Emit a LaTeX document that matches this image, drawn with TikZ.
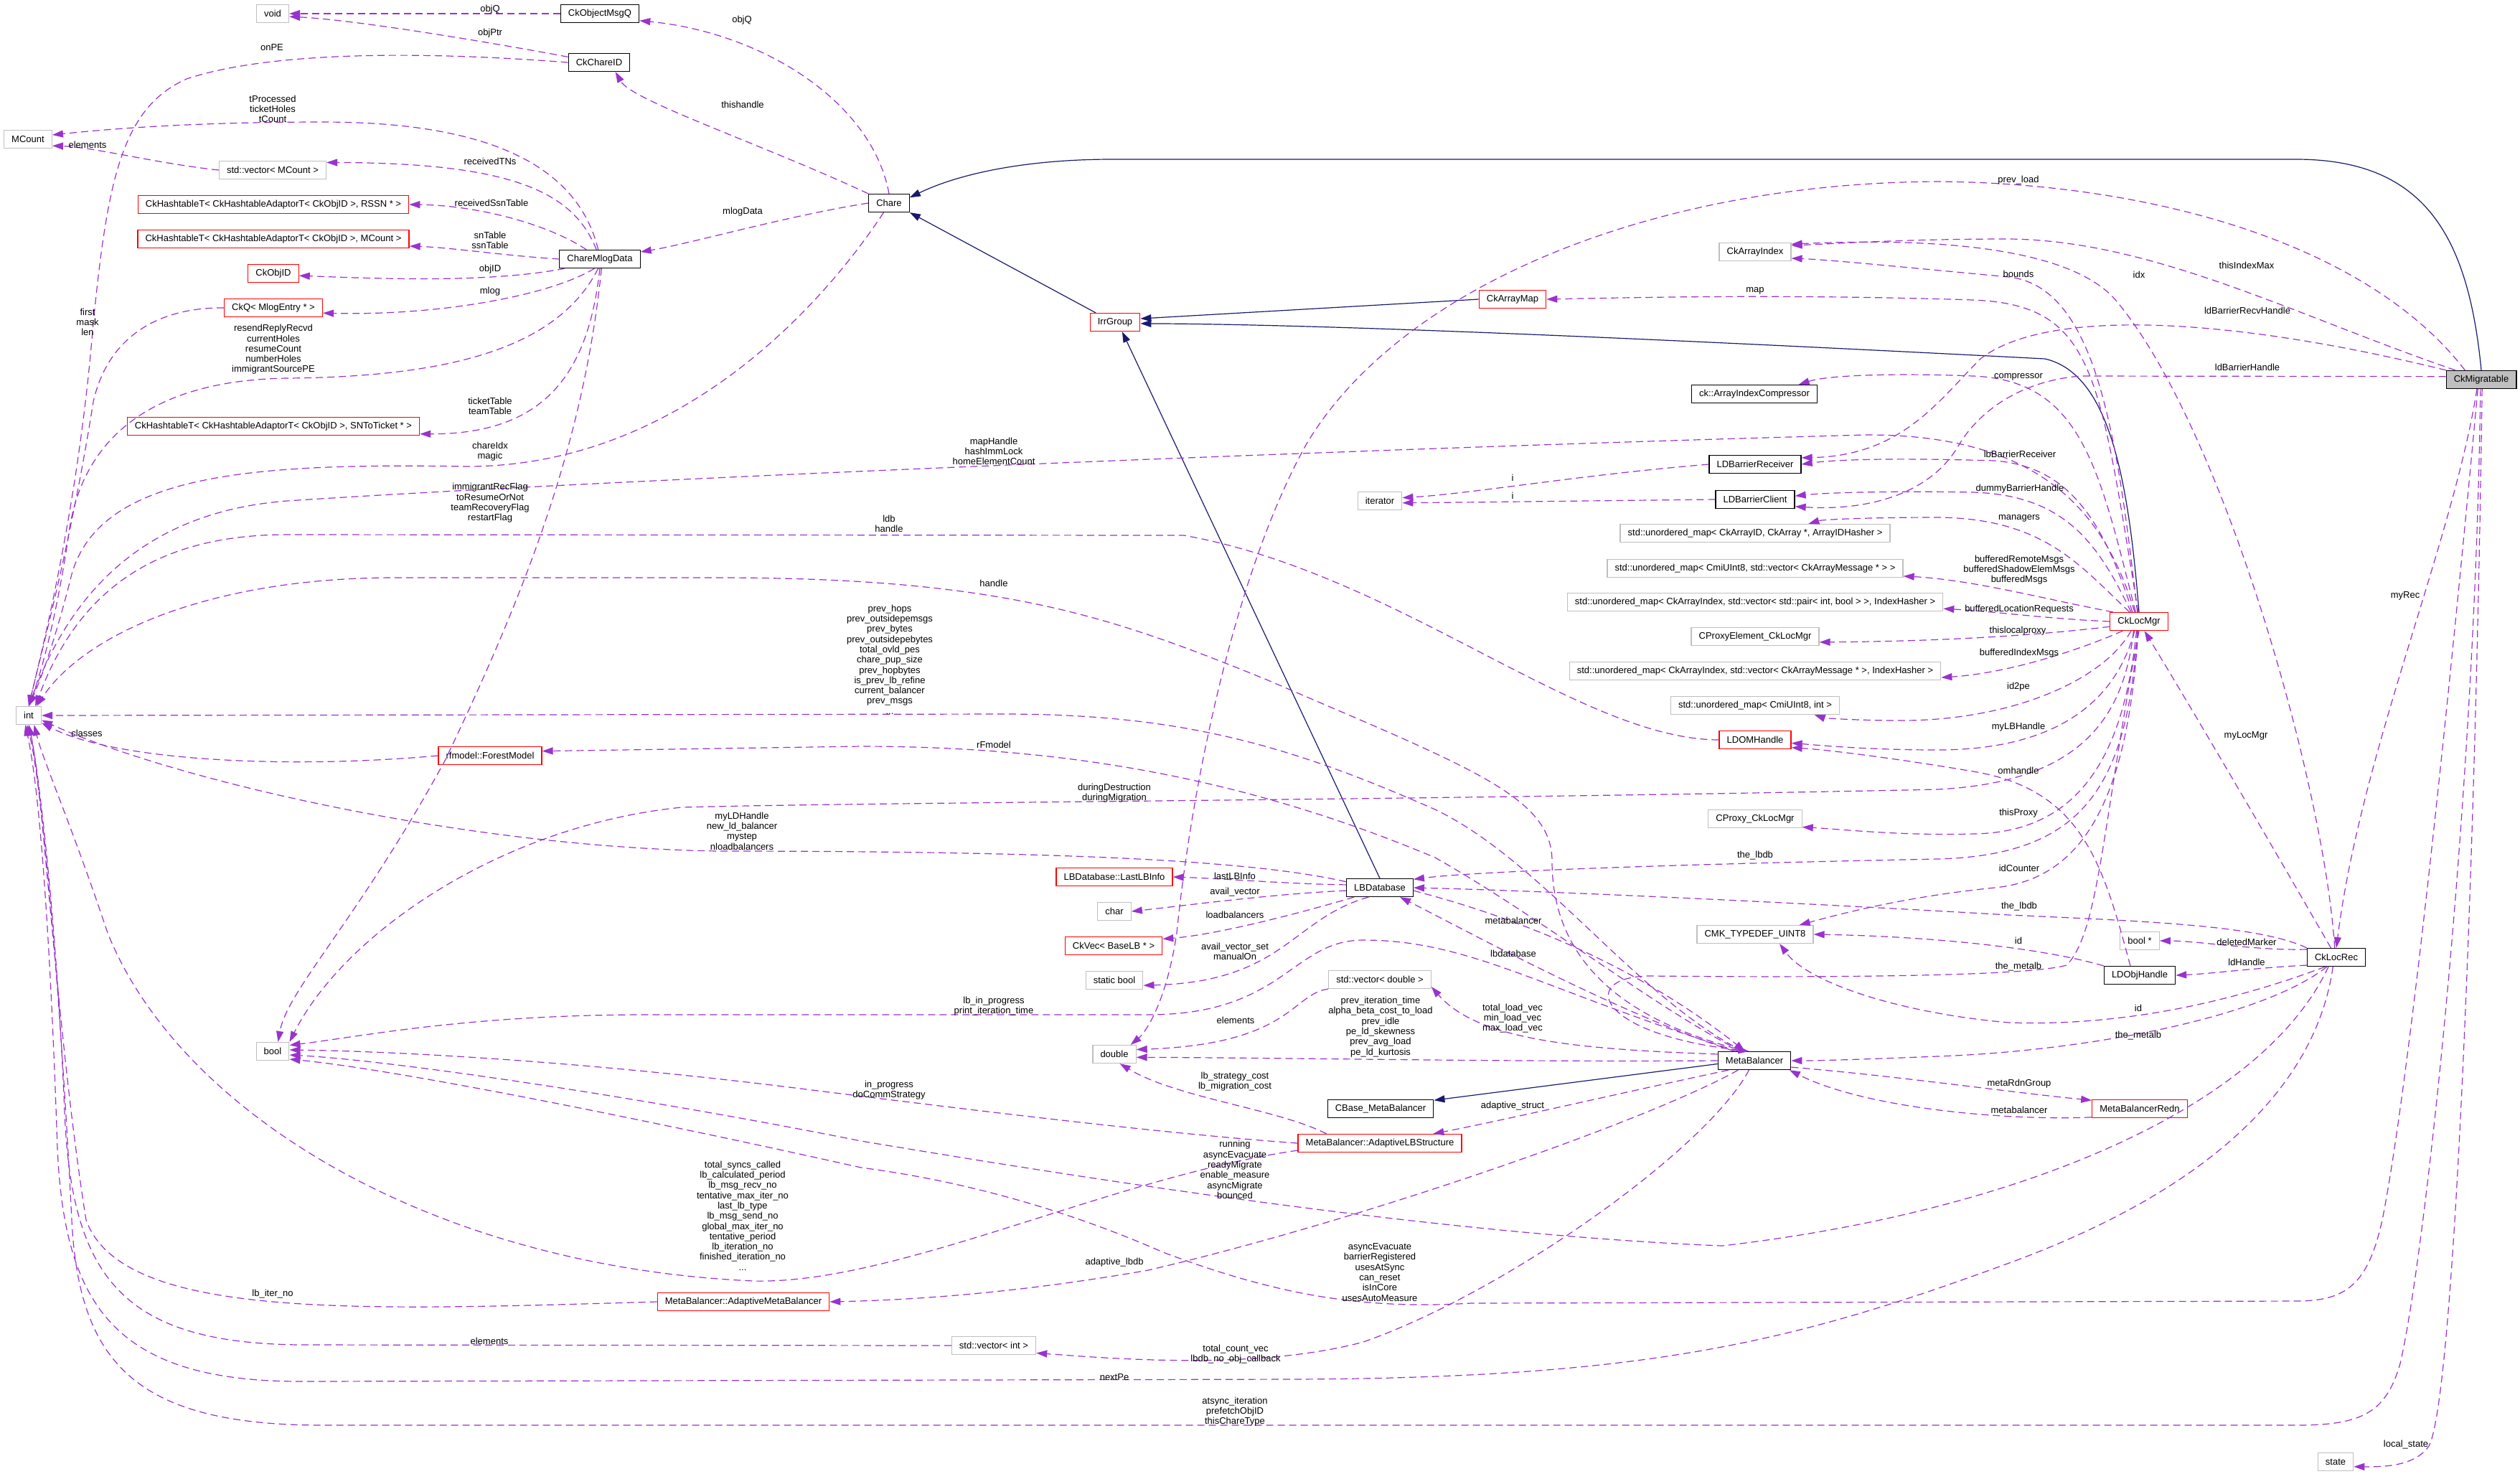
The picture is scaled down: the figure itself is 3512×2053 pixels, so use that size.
\documentclass[tikz,border=0pt]{standalone}
\usepackage{fontspec}
\setmainfont{Liberation Sans}
\usetikzlibrary{arrows.meta}
\definecolor{depc}{HTML}{9A32CD}
\definecolor{inhc}{HTML}{191970}
\definecolor{boxgray}{HTML}{BFBFBF}
\newcommand{\dgfont}{\fontsize{6.5pt}{7.15pt}\selectfont}
\begin{document}
\begin{tikzpicture}[x=0.5pt,y=-0.5pt,
  clsbox/.style={rectangle, draw, line width=0.6pt, minimum height=12.5pt, inner xsep=5.3pt, inner ysep=0pt, font=\dgfont},
  gbox/.style={clsbox, draw=boxgray},
  rbox/.style={clsbox, draw=red},
  kbox/.style={clsbox, draw=black},
  mainbox/.style={clsbox, draw=black, fill=boxgray},
  depedge/.style={draw=depc, line width=0.6pt, dash pattern=on 5pt off 3pt, -{Triangle[length=7.5pt,width=5pt]}},
  inhedge/.style={draw=inhc, line width=0.6pt, -{Triangle[length=7.5pt,width=5pt]}},
  lbltxt/.style={font=\dgfont, align=center, inner sep=0pt}]
\fill[white] (0,0) rectangle (3512,2053);
\useasboundingbox (0,0) rectangle (3512,2053);

% ---------------- nodes ----------------
\node[gbox] (voidn) at (380,19) {void};
\node[kbox] (omq) at (836,19) {CkObjectMsgQ};
\node[kbox] (ccid) at (835,87) {CkChareID};
\node[gbox] (mcount) at (39,194) {MCount};
\node[gbox] (vmc) at (380,237) {std::vector< MCount >};
\node[rbox] (rssn) at (381,285) {CkHashtableT< CkHashtableAdaptorT< CkObjID >, RSSN * >};
\node[rbox] (htm) at (381,333) {CkHashtableT< CkHashtableAdaptorT< CkObjID >, MCount >};
\node[rbox] (objid) at (381,381) {CkObjID};
\node[rbox] (ckq) at (381,429) {CkQ< MlogEntry * >};
\node[rbox] (snt) at (381,594) {CkHashtableT< CkHashtableAdaptorT< CkObjID >, SNToTicket * >};
\node[kbox] (cmd) at (836,361) {ChareMlogData};
\node[kbox] (chare) at (1239,283) {Chare};
\node[rbox] (irr) at (1554,449) {IrrGroup};
\node[gbox] (intn) at (40,997) {int};
\node[rbox] (fm) at (683,1053) {rfmodel::ForestModel};
\node[gbox] (booln) at (380,1465) {bool};
\node[rbox] (amb) at (1036,1814) {MetaBalancer::AdaptiveMetaBalancer};
\node[rbox] (llbi) at (1553,1222) {LBDatabase::LastLBInfo};
\node[gbox] (charn) at (1553,1270) {char};
\node[rbox] (ckvec) at (1552,1318) {CkVec< BaseLB * >};
\node[gbox] (sbool) at (1553,1366) {static bool};
\node[gbox] (dbl) at (1553,1469) {double};
\node[gbox] (vint) at (1385,1875) {std::vector< int >};
\node[gbox] (iter) at (1923,698) {iterator};
\node[kbox] (lbdb) at (1923,1237) {LBDatabase};
\node[gbox] (vdbl) at (1923,1365) {std::vector< double >};
\node[kbox] (cbmb) at (1924,1545) {CBase\_MetaBalancer};
\node[rbox] (albs) at (1923,1593) {MetaBalancer::AdaptiveLBStructure};
\node[rbox] (ckam) at (2108,417) {CkArrayMap};
\node[gbox] (cai) at (2446,351) {CkArrayIndex};
\node[kbox] (caic) at (2445,549) {ck::ArrayIndexCompressor};
\node[kbox] (ldbr) at (2446,647) {LDBarrierReceiver};
\node[kbox] (ldbc) at (2446,696) {LDBarrierClient};
\node[gbox] (um1) at (2446,743) {std::unordered\_map< CkArrayID, CkArray *, ArrayIDHasher >};
\node[gbox] (um2) at (2446,792) {std::unordered\_map< CmiUInt8, std::vector< CkArrayMessage * > >};
\node[gbox] (um3) at (2446,839) {std::unordered\_map< CkArrayIndex, std::vector< std::pair< int, bool > >, IndexHasher >};
\node[gbox] (cpe) at (2446,887) {CProxyElement\_CkLocMgr};
\node[gbox] (um4) at (2446,935) {std::unordered\_map< CkArrayIndex, std::vector< CkArrayMessage * >, IndexHasher >};
\node[gbox] (um5) at (2446,983) {std::unordered\_map< CmiUInt8, int >};
\node[rbox] (ldom) at (2446,1031) {LDOMHandle};
\node[gbox] (cpc) at (2446,1141) {CProxy\_CkLocMgr};
\node[gbox] (cmk) at (2446,1302) {CMK\_TYPEDEF\_UINT8};
\node[kbox] (mb) at (2445,1478) {MetaBalancer};
\node[rbox] (clm) at (2981,866) {CkLocMgr};
\node[gbox] (bptr) at (2982,1311) {bool *};
\node[kbox] (ldoh) at (2982,1359) {LDObjHandle};
\node[rbox] (mbr) at (2982,1545) {MetaBalancerRedn};
\node[kbox] (clr) at (3256,1334) {CkLocRec};
\node[gbox] (staten) at (3255,2037) {state};
\node[mainbox] (ckm) at (3458,529) {CkMigratable};

% ---------------- inheritance ----------------
\draw[inhedge] (ckm.north) .. controls (3440,330) and (3380,222) .. (3200,222) -- (1550,222) .. controls (1420,222) and (1330,245) .. (chare.15);
\draw[inhedge] (irr.154) -- (chare.south east);
\draw[inhedge] (ckam.west) -- (irr.8);
\draw[inhedge] (clm.north) .. controls (2965,650) and (2935,520) .. (2850,500) .. controls (2500,482) and (1900,452) .. (irr.-3);
\draw[inhedge] (lbdb.north) -- (irr.-53);
\draw[inhedge] (mb.-175) -- (cbmb.9);

% ---------------- dependencies ----------------
\draw[depedge] (omq.west) -- (voidn.east);
\draw[depedge] (ccid.170) .. controls (700,62) and (500,28) .. (voidn.-10);
\draw[depedge] (ccid.west) .. controls (600,72) and (380,70) .. (260,110) .. controls (170,150) and (150,250) .. (130,450) .. controls (110,700) and (60,900) .. (intn.north);
\draw[depedge] (chare.north) .. controls (1215,140) and (1060,45) .. (omq.-10);
\draw[depedge] (chare.north west) .. controls (1060,200) and (880,140) .. (ccid.-30);
\draw[depedge] (chare.west) .. controls (1100,300) and (960,340) .. (cmd.10);
\draw[depedge] (cmd.100) .. controls (805,230) and (680,170) .. (450,170) .. controls (250,170) and (130,182) .. (mcount.10);
\draw[depedge] (vmc.west) .. controls (220,228) and (130,205) .. (mcount.-15);
\draw[depedge] (cmd.110) .. controls (800,270) and (720,227) .. (vmc.8);
\draw[depedge] (cmd.145) .. controls (760,310) and (660,286) .. (rssn.east);
\draw[depedge] (cmd.west) .. controls (700,356) and (630,345) .. (htm.-3);
\draw[depedge] (cmd.-165) .. controls (680,395) and (520,388) .. (objid.-5);
\draw[depedge] (cmd.-120) .. controls (770,410) and (620,440) .. (ckq.-6);
\draw[depedge] (ckq.west) .. controls (220,428) and (150,470) .. (130,560) .. controls (100,750) and (60,900) .. (intn.north);
\draw[depedge] (cmd.-100) .. controls (780,480) and (640,525) .. (400,527) .. controls (200,530) and (110,620) .. (95,750) .. controls (80,850) and (60,930) .. (intn.north);
\draw[depedge] (cmd.-90) .. controls (820,520) and (760,605) .. (snt.-3);
\draw[depedge] (chare.-120) .. controls (1150,420) and (950,650) .. (650,650) .. controls (350,645) and (140,660) .. (100,800) .. controls (80,880) and (60,940) .. (intn.north);
\draw[depedge] (cmd.-80) .. controls (815,600) and (745,800) .. (620,1060) .. controls (500,1280) and (400,1380) .. (booln.60);
\draw[depedge] (clm.115) .. controls (2935,720) and (2850,605) .. (2600,606) .. controls (2000,622) and (900,665) .. (400,698) .. controls (180,715) and (90,850) .. (intn.north);
\draw[depedge] (ldom.west) .. controls (2200,1030) and (1950,800) .. (1650,746) -- (400,745) .. controls (220,745) and (110,820) .. (intn.55);
\draw[depedge] (mb.130) .. controls (2250,1420) and (2163,1330) .. (2163,1200) .. controls (2163,1110) and (2050,1070) .. (1765,947) .. controls (1550,860) and (1400,805) .. (1000,805) -- (550,805) .. controls (300,805) and (120,880) .. (intn.50);
\draw[depedge] (mb.140) .. controls (2280,1390) and (2150,1200) .. (2000,1128) .. controls (1800,1040) and (1650,995) .. (1400,995) -- (intn.east);
\draw[depedge] (mb.145) .. controls (2300,1400) and (2150,1280) .. (2000,1195) .. controls (1750,1090) and (1500,1040) .. (1200,1040) -- (fm.5);
\draw[depedge] (fm.west) .. controls (400,1072) and (160,1060) .. (intn.-30);
\draw[depedge] (clm.-120) .. controls (2960,1000) and (2900,1090) .. (2700,1100) .. controls (2000,1115) and (1200,1118) .. (950,1125) .. controls (700,1150) and (480,1300) .. (booln.north east);
\draw[depedge] (lbdb.170) .. controls (1750,1200) and (1500,1186) .. (1000,1186) .. controls (650,1180) and (250,1090) .. (intn.-20);
\draw[depedge] (lbdb.175) .. controls (1800,1232) and (1700,1224) .. (llbi.east);
\draw[depedge] (lbdb.-175) .. controls (1780,1245) and (1650,1262) .. (charn.east);
\draw[depedge] (lbdb.-160) .. controls (1820,1270) and (1700,1302) .. (ckvec.8);
\draw[depedge] (lbdb.-140) .. controls (1800,1280) and (1790,1368) .. (sbool.-10);
\draw[depedge] (mb.150) .. controls (2150,1380) and (2050,1310) .. (1900,1310) .. controls (1800,1310) and (1790,1414) .. (1600,1414) -- (900,1414) .. controls (650,1414) and (500,1445) .. (booln.20);
\draw[depedge] (vdbl.south west) .. controls (1800,1385) and (1800,1455) .. (dbl.12);
\draw[depedge] (mb.west) .. controls (2100,1480) and (1800,1474) .. (dbl.-8);
\draw[depedge] (mb.170) .. controls (2200,1462) and (2060,1450) .. (vdbl.-8);
\draw[depedge] (albs.170) .. controls (1780,1545) and (1640,1530) .. (dbl.-60);
\draw[depedge] (albs.west) .. controls (1600,1578) and (1300,1540) .. (1100,1515) .. controls (800,1478) and (550,1465) .. (booln.5);
\draw[depedge] (mb.-160) .. controls (2250,1525) and (2100,1560) .. (albs.10);
\draw[depedge] (clr.-130) .. controls (3150,1550) and (2800,1690) .. (2400,1736) .. controls (2000,1720) and (1500,1640) .. (1200,1590) .. controls (900,1530) and (550,1478) .. (booln.-12);
\draw[depedge] (albs.-175) .. controls (1550,1640) and (1250,1790) .. (1050,1785) .. controls (600,1765) and (250,1550) .. (150,1300) .. controls (100,1150) and (60,1060) .. (intn.-60);
\draw[depedge] (mb.-150) .. controls (2300,1560) and (1900,1700) .. (1600,1770) .. controls (1400,1805) and (1250,1812) .. (amb.east);
\draw[depedge] (ckm.-110) .. controls (3420,900) and (3360,1500) .. (3320,1700) .. controls (3300,1790) and (3270,1813) .. (3200,1813) -- (2050,1816) .. controls (1900,1825) and (1780,1805) .. (1621,1745) .. controls (1450,1670) and (1300,1640) .. (1200,1627) .. controls (900,1560) and (550,1490) .. (booln.-25);
\draw[depedge] (amb.west) .. controls (500,1826) and (170,1840) .. (120,1700) .. controls (80,1450) and (60,1100) .. (intn.south);
\draw[depedge] (vint.west) -- (420,1874) .. controls (170,1872) and (100,1780) .. (90,1550) .. controls (80,1300) and (55,1080) .. (intn.south);
\draw[depedge] (mb.-120) .. controls (2380,1600) and (2100,1800) .. (1900,1870) .. controls (1750,1910) and (1550,1893) .. (vint.-10);
\draw[depedge] (clr.-110) .. controls (3230,1500) and (3100,1650) .. (2800,1760) .. controls (2500,1870) and (2300,1920) .. (1800,1922) -- (420,1925) .. controls (160,1925) and (90,1820) .. (80,1600) .. controls (70,1300) and (55,1100) .. (intn.-110);
\draw[depedge] (ckm.-95) .. controls (3450,1100) and (3380,1750) .. (3345,1900) .. controls (3325,1970) and (3290,1986) .. (3200,1986) -- (450,1986) .. controls (190,1986) and (110,1900) .. (100,1700) .. controls (85,1400) and (60,1100) .. (intn.-100);
\draw[depedge] (ckm.-85) .. controls (3450,1200) and (3420,1950) .. (3385,2015) .. controls (3365,2044) and (3320,2044) .. (staten.-15);
\draw[depedge] (ckm.-115) .. controls (3420,750) and (3290,1050) .. (clr.north);
\draw[depedge] (ckm.150) .. controls (3300,340) and (3000,255) .. (2700,253) .. controls (2300,255) and (1950,400) .. (1820,620) .. controls (1720,800) and (1660,1100) .. (1640,1300) .. controls (1625,1400) and (1595,1440) .. (dbl.30);
\draw[depedge] (ckm.160) .. controls (3200,440) and (3000,335) .. (2800,333) .. controls (2650,333) and (2550,340) .. (cai.10);
\draw[depedge] (clm.100) .. controls (2950,600) and (2920,400) .. (2800,386) .. controls (2650,372) and (2550,362) .. (cai.-10);
\draw[depedge] (clr.100) .. controls (3240,1100) and (3100,600) .. (2950,420) .. controls (2880,335) and (2650,333) .. (cai.12);
\draw[depedge] (ckm.165) .. controls (3100,440) and (2850,430) .. (2760,500) .. controls (2700,560) and (2650,635) .. (ldbr.8);
\draw[depedge] (ckm.175) -- (2900,524) .. controls (2820,530) and (2760,570) .. (2730,620) .. controls (2690,690) and (2600,712) .. (ldbc.-10);
\draw[depedge] (clm.110) .. controls (2925,650) and (2900,530) .. (2750,524) .. controls (2650,520) and (2550,522) .. (caic.12);
\draw[depedge] (clm.125) .. controls (2930,720) and (2880,650) .. (2780,642) .. controls (2650,638) and (2560,640) .. (ldbr.east);
\draw[depedge] (clm.130) .. controls (2925,760) and (2880,690) .. (2750,686) .. controls (2650,684) and (2550,686) .. (ldbc.5);
\draw[depedge] (clm.95) .. controls (2925,520) and (2920,425) .. (2750,418) .. controls (2500,410) and (2300,414) .. (ckam.east);
\draw[depedge] (ldbr.west) .. controls (2200,662) and (2050,688) .. (iter.8);
\draw[depedge] (ldbc.west) .. controls (2200,698) and (2050,700) .. (iter.-5);
\draw[depedge] (clm.135) .. controls (2900,790) and (2850,722) .. (2700,721) .. controls (2600,721) and (2540,724) .. (um1.10);
\draw[depedge] (clm.160) .. controls (2850,835) and (2750,808) .. (um2.-3);
\draw[depedge] (clm.west) .. controls (2850,862) and (2780,852) .. (um3.-2);
\draw[depedge] (clm.-170) .. controls (2800,890) and (2650,894) .. (cpe.-5);
\draw[depedge] (clm.-150) .. controls (2900,905) and (2800,938) .. (um4.-2);
\draw[depedge] (clm.-130) .. controls (2930,950) and (2800,1004) .. (2650,1004) .. controls (2580,1004) and (2540,1000) .. (um5.-9);
\draw[depedge] (clm.-115) .. controls (2945,990) and (2850,1045) .. (2700,1045) .. controls (2600,1045) and (2530,1038) .. (ldom.-5);
\draw[depedge] (ldoh.135) .. controls (2930,1200) and (2900,1100) .. (2750,1075) .. controls (2650,1058) and (2550,1045) .. (ldom.-12);
\draw[depedge] (clm.-105) .. controls (2960,1050) and (2900,1160) .. (2750,1162) .. controls (2650,1165) and (2560,1155) .. (cpc.-10);
\draw[depedge] (clm.-100) .. controls (2965,1100) and (2900,1192) .. (2700,1197) .. controls (2300,1205) and (2050,1215) .. (lbdb.14);
\draw[depedge] (clm.-95) .. controls (2965,1120) and (2900,1225) .. (2780,1237) .. controls (2650,1250) and (2560,1275) .. (cmk.12);
\draw[depedge] (clr.north west) .. controls (3150,1290) and (3000,1284) .. (2800,1275) .. controls (2400,1252) and (2100,1240) .. (lbdb.east);
\draw[depedge] (lbdb.-5) .. controls (2050,1262) and (2250,1320) .. (mb.135);
\draw[depedge] (mb.155) .. controls (2250,1410) and (2050,1300) .. (lbdb.-25);
\draw[depedge] (ldoh.north west) .. controls (2850,1322) and (2700,1305) .. (cmk.east);
\draw[depedge] (clm.-90) .. controls (2930,1150) and (2925,1300) .. (2880,1345) .. controls (2820,1362) and (2500,1362) .. (2300,1360) .. controls (2200,1360) and (2220,1440) .. (mb.120);
\draw[depedge] (clr.165) .. controls (3150,1325) and (3060,1311) .. (bptr.east);
\draw[depedge] (clr.-165) .. controls (3150,1348) and (3080,1357) .. (ldoh.east);
\draw[depedge] (clr.-140) .. controls (3100,1400) and (2950,1430) .. (2800,1425) .. controls (2650,1412) and (2520,1370) .. (cmk.-21);
\draw[depedge] (clr.-135) .. controls (3150,1420) and (2900,1465) .. (2700,1472) .. controls (2600,1476) and (2540,1478) .. (mb.east);
\draw[depedge] (mb.-10) .. controls (2650,1500) and (2800,1522) .. (mbr.170);
\draw[depedge] (mbr.-170) .. controls (2800,1562) and (2600,1545) .. (mb.-15);
\draw[depedge] (clr.120) .. controls (3150,1150) and (3050,980) .. (clm.-60);

% ---------------- labels ----------------
\node[lbltxt] (t1) at (683,13) {objQ};
\node[lbltxt] (t2) at (683,46) {objPtr};
\node[lbltxt] (t3) at (379,66) {onPE};
\node[lbltxt] (t4) at (1034,28) {objQ};
\node[lbltxt] (t5) at (1035,146) {thishandle};
\node[lbltxt] (t6) at (1035,295) {mlogData};
\node[lbltxt] (t7) at (380,152) {tProcessed\\ticketHoles\\tCount};
\node[lbltxt] (t8) at (122,202) {elements};
\node[lbltxt] (t9) at (683,225) {receivedTNs};
\node[lbltxt] (t10) at (685,283) {receivedSsnTable};
\node[lbltxt] (t11) at (683,335) {snTable\\ssnTable};
\node[lbltxt] (t12) at (683,375) {objID};
\node[lbltxt] (t13) at (683,406) {mlog};
\node[lbltxt] (t14) at (122,449) {first\\mask\\len};
\node[lbltxt] (t15) at (381,487) {resendReplyRecvd\\currentHoles\\resumeCount\\numberHoles\\immigrantSourcePE};
\node[lbltxt] (t16) at (683,566) {ticketTable\\teamTable};
\node[lbltxt] (t17) at (683,629) {chareIdx\\magic};
\node[lbltxt] (t18) at (683,701) {immigrantRecFlag\\toResumeOrNot\\teamRecoveryFlag\\restartFlag};
\node[lbltxt] (t19) at (1385,629) {mapHandle\\hashImmLock\\homeElementCount};
\node[lbltxt] (t20) at (1239,730) {ldb\\handle};
\node[lbltxt] (t21) at (1385,813) {handle};
\node[lbltxt] (t22) at (1240,919) {prev\_hops\\prev\_outsidepemsgs\\prev\_bytes\\prev\_outsidepebytes\\total\_ovld\_pes\\chare\_pup\_size\\prev\_hopbytes\\is\_prev\_lb\_refine\\current\_balancer\\prev\_msgs\\...};
\node[lbltxt] (t23) at (1385,1038) {rFmodel};
\node[lbltxt] (t24) at (121,1022) {classes};
\node[lbltxt] (t25) at (1553,1105) {duringDestruction\\duringMigration};
\node[lbltxt] (t26) at (1034,1158) {myLDHandle\\new\_ld\_balancer\\mystep\\nloadbalancers};
\node[lbltxt] (t27) at (1721,1221) {lastLBInfo};
\node[lbltxt] (t28) at (1721,1243) {avail\_vector};
\node[lbltxt] (t29) at (1721,1275) {loadbalancers};
\node[lbltxt] (t30) at (1721,1326) {avail\_vector\_set\\manualOn};
\node[lbltxt] (t31) at (1385,1402) {lb\_in\_progress\\print\_iteration\_time};
\node[lbltxt] (t32) at (1722,1422) {elements};
\node[lbltxt] (t33) at (1924,1431) {prev\_iteration\_time\\alpha\_beta\_cost\_to\_load\\prev\_idle\\pe\_ld\_skewness\\prev\_avg\_load\\pe\_ld\_kurtosis};
\node[lbltxt] (t34) at (2108,1419) {total\_load\_vec\\min\_load\_vec\\max\_load\_vec};
\node[lbltxt] (t35) at (1721,1507) {lb\_strategy\_cost\\lb\_migration\_cost};
\node[lbltxt] (t36) at (1239,1519) {in\_progress\\doCommStrategy};
\node[lbltxt] (t37) at (2108,1541) {adaptive\_struct};
\node[lbltxt] (t38) at (1721,1630) {running\\asyncEvacuate\\readyMigrate\\enable\_measure\\asyncMigrate\\bounced};
\node[lbltxt] (t39) at (1035,1694) {total\_syncs\_called\\lb\_calculated\_period\\lb\_msg\_recv\_no\\tentative\_max\_iter\_no\\last\_lb\_type\\lb\_msg\_send\_no\\global\_max\_iter\_no\\tentative\_period\\lb\_iteration\_no\\finished\_iteration\_no\\...};
\node[lbltxt] (t40) at (1553,1759) {adaptive\_lbdb};
\node[lbltxt] (t41) at (1923,1773) {asyncEvacuate\\barrierRegistered\\usesAtSync\\can\_reset\\isInCore\\usesAutoMeasure};
\node[lbltxt] (t42) at (380,1803) {lb\_iter\_no};
\node[lbltxt] (t43) at (682,1869) {elements};
\node[lbltxt] (t44) at (1722,1887) {total\_count\_vec\\lbdb\_no\_obj\_callback};
\node[lbltxt] (t45) at (1553,1919) {nextPe};
\node[lbltxt] (t46) at (1721,1967) {atsync\_iteration\\prefetchObjID\\thisChareType};
\node[lbltxt] (t47) at (3353,2013) {local\_state};
\node[lbltxt] (t48) at (3352,830) {myRec};
\node[lbltxt] (t49) at (2813,251) {prev\_load};
\node[lbltxt] (t50) at (3131,370) {thisIndexMax};
\node[lbltxt] (t51) at (2813,382) {bounds};
\node[lbltxt] (t52) at (2981,383) {idx};
\node[lbltxt] (t53) at (3132,433) {ldBarrierRecvHandle};
\node[lbltxt] (t54) at (3132,512) {ldBarrierHandle};
\node[lbltxt] (t55) at (2813,525) {compressor};
\node[lbltxt] (t56) at (2815,633) {lbBarrierReceiver};
\node[lbltxt] (t57) at (2815,681) {dummyBarrierHandle};
\node[lbltxt] (t58) at (2446,405) {map};
\node[lbltxt] (t59) at (2108,666) {i};
\node[lbltxt] (t60) at (2108,691) {i};
\node[lbltxt] (t61) at (2814,722) {managers};
\node[lbltxt] (t62) at (2814,794) {bufferedRemoteMsgs\\bufferedShadowElemMsgs\\bufferedMsgs};
\node[lbltxt] (t63) at (2814,849) {bufferedLocationRequests};
\node[lbltxt] (t64) at (2812,879) {thislocalproxy};
\node[lbltxt] (t65) at (2814,910) {bufferedIndexMsgs};
\node[lbltxt] (t66) at (2813,957) {id2pe};
\node[lbltxt] (t67) at (2813,1013) {myLBHandle};
\node[lbltxt] (t68) at (2813,1074) {omhandle};
\node[lbltxt] (t69) at (2813,1133) {thisProxy};
\node[lbltxt] (t70) at (2446,1192) {the\_lbdb};
\node[lbltxt] (t71) at (2814,1210) {idCounter};
\node[lbltxt] (t72) at (2814,1263) {the\_lbdb};
\node[lbltxt] (t73) at (2109,1283) {metabalancer};
\node[lbltxt] (t74) at (2109,1329) {lbdatabase};
\node[lbltxt] (t75) at (2813,1311) {id};
\node[lbltxt] (t76) at (2813,1347) {the\_metalb};
\node[lbltxt] (t77) at (3131,1313) {deletedMarker};
\node[lbltxt] (t78) at (3131,1341) {ldHandle};
\node[lbltxt] (t79) at (2980,1405) {id};
\node[lbltxt] (t80) at (2980,1443) {the\_metalb};
\node[lbltxt] (t81) at (2814,1510) {metaRdnGroup};
\node[lbltxt] (t82) at (2814,1547) {metabalancer};
\node[lbltxt] (t83) at (3130,1025) {myLocMgr};
\end{tikzpicture}
\end{document}
